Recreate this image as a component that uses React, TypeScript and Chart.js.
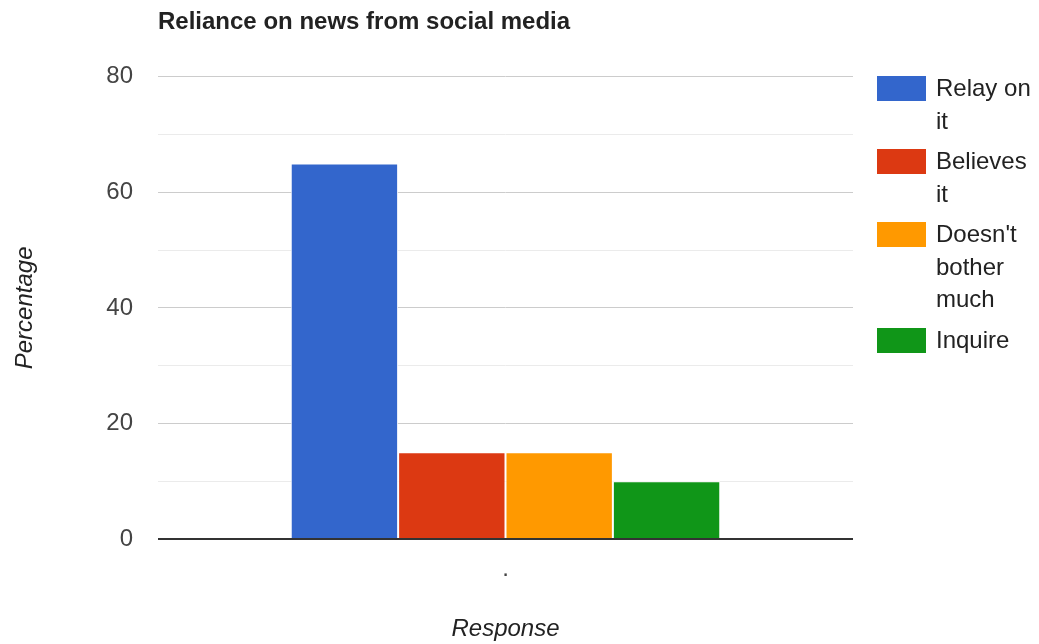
import React, { useEffect, useRef } from 'react';
import { Chart, registerables } from 'chart.js';

Chart.register(...registerables);

const categories: string[] = ['.'];
const seriesNames: string[] = ['Relay on it', 'Believes it', "Doesn't bother much", 'Inquire'];
const relayOnIt: number[] = [65];
const believesIt: number[] = [15];
const doesntBother: number[] = [15];
const inquire: number[] = [10];
const seriesValues: number[][] = [relayOnIt, believesIt, doesntBother, inquire];
const seriesColors: string[] = ['#3366cc', '#dc3912', '#ff9900', '#109618'];
const yMin = 0;
const yMax = 80;
const yStep = 10;
const yLabelEvery = 20;

const FONT = "Arial, 'Liberation Sans', sans-serif";

export default function App() {
  const canvasRef = useRef<HTMLCanvasElement | null>(null);

  useEffect(() => {
    if (!canvasRef.current) return;
    const chart = new Chart(canvasRef.current, {
      type: 'bar',
      data: {
        labels: categories,
        datasets: seriesNames.map((name, i) => ({
          label: name,
          data: seriesValues[i],
          backgroundColor: seriesColors[i],
          borderColor: '#ffffff',
          borderWidth: 1,
          barPercentage: 1,
          categoryPercentage: 0.618,
        })),
      },
      options: {
        animation: false,
        responsive: false,
        maintainAspectRatio: false,
        layout: { padding: { left: 0, right: 186, top: 0, bottom: 0 } },
        plugins: {
          legend: { display: false },
          tooltip: { enabled: false },
          title: {
            display: true,
            text: 'Reliance on news from social media',
            align: 'start',
            fullSize: false,
            color: '#222222',
            font: { family: FONT, size: 24, weight: 'bold' },
            padding: { top: 8, bottom: 40 },
          },
        },
        scales: {
          x: {
            grid: { display: false },
            border: { display: false },
            ticks: { color: '#444444', font: { family: FONT, size: 24 }, padding: 8 },
            title: {
              display: true,
              text: 'Response',
              color: '#222222',
              font: { family: FONT, size: 24, style: 'italic' },
              padding: 0,
            },
            afterFit: (s: any) => {
              s.height = 105;
            },
          },
          y: {
            min: yMin,
            max: yMax,
            border: { display: false },
            ticks: {
              stepSize: yStep,
              padding: 25,
              color: '#444444',
              font: { family: FONT, size: 24 },
              callback: (v: any) => (Number(v) % yLabelEvery === 0 ? String(v) : ''),
            },
            grid: {
              drawTicks: false,
              color: (ctx: any) =>
                ctx.tick.value === 0 ? '#333333' : ctx.tick.value % yLabelEvery === 0 ? '#cccccc' : '#ebebeb',
              lineWidth: (ctx: any) => (ctx.tick.value === 0 ? 2 : 1),
            },
            title: {
              display: true,
              text: 'Percentage',
              color: '#222222',
              font: { family: FONT, size: 24, style: 'italic' },
              padding: { top: 11, bottom: 0 },
            },
            afterFit: (s: any) => {
              s.width = 158;
            },
          },
        },
      },
    });
    return () => chart.destroy();
  }, []);

  return (
    <div style={{ position: 'fixed', left: 0, top: 0, width: 1039, height: 644, background: '#fff' }}>
      <canvas ref={canvasRef} width={1039} height={644} style={{ display: 'block' }} />
      <div style={{ position: 'absolute', left: 877, top: 72, width: 160, fontFamily: FONT, fontSize: 24, color: '#222' }}>
        {seriesNames.map((name, i) => (
          <div key={name} style={{ display: 'flex', alignItems: 'flex-start', marginBottom: 8 }}>
            <div style={{ width: 49, height: 25, marginTop: 4, background: seriesColors[i], flex: 'none' }} />
            <div style={{ marginLeft: 10, width: 100, lineHeight: '32.5px' }}>{name}</div>
          </div>
        ))}
      </div>
    </div>
  );
}
